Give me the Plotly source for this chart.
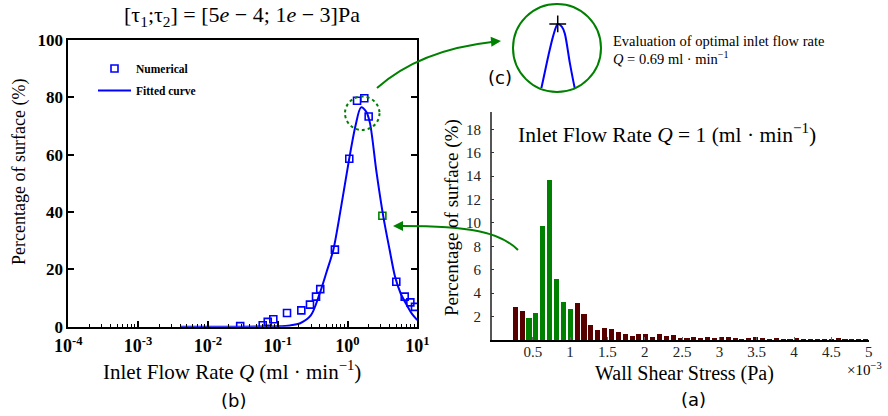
import plotly.graph_objects as go

# ---------------- data ----------------
# (b) numerical results: inlet flow rate Q (ml/min) vs percentage of surface
num_q = [0.029, 0.061, 0.072, 0.0865, 0.136, 0.218, 0.29, 0.354, 0.407, 0.66,
         1.06, 1.37, 1.74, 2.01, 3.16, 5.0, 6.6, 7.95, 9.27]
num_pct = [0.2, 0.5, 1.7, 2.6, 4.8, 5.7, 7.7, 10.5, 13.1, 26.9,
           58.6, 78.8, 79.7, 73.3, 38.7, 15.7, 10.5, 8.5, 6.9]
highlight_q = 3.16  # point shown in panel (a)

# (b) fitted curve
fit_q = [0.004, 0.02, 0.06, 0.1, 0.15, 0.21, 0.3, 0.4, 0.5, 0.625, 0.8, 1.06,
         1.3, 1.56, 1.85, 2.1, 2.6, 3.26, 4.0, 4.8, 5.8, 7.05, 8.5, 10.0]
fit_pct = [0.0, 0.0, 0.05, 0.15, 0.45, 1.2, 4.0, 11.6, 19.0, 26.7, 41.0, 58.7,
           70.0, 76.5, 75.0, 71.0, 54.0, 38.4, 27.0, 17.4, 11.5, 7.6, 4.3, 2.3]

# (a) histogram of wall shear stress (x 1e-3 Pa) for Q = 1 ml/min
wss_centers = [0.262, 0.354, 0.446, 0.538, 0.630, 0.722, 0.814, 0.906, 0.998, 1.090,
               1.182, 1.274, 1.366, 1.458, 1.550, 1.642, 1.734, 1.826, 1.918, 2.010,
               2.102, 2.194, 2.286, 2.378, 2.470, 2.562, 2.654, 2.746, 2.838, 2.930,
               3.022, 3.114, 3.206, 3.298, 3.390, 3.482, 3.574, 3.666, 3.758, 3.850,
               3.942, 4.034, 4.126, 4.218, 4.310, 4.402, 4.494, 4.586, 4.678, 4.770,
               4.862, 4.954]
wss_pct = [2.85, 2.5, 1.94, 2.34, 9.8, 13.7, 5.2, 3.3, 2.7, 3.15,
           2.25, 1.3, 0.9, 1.08, 1.0, 0.72, 0.54, 0.37, 0.56, 0.5,
           0.25, 0.5, 0.34, 0.43, 0.17, 0.17, 0.31, 0.17, 0.26, 0.17,
           0.26, 0.26, 0.17, 0.09, 0.17, 0.26, 0.23, 0.14, 0.23, 0.09,
           0.06, 0.23, 0.11, 0.14, 0.09, 0.09, 0.14, 0.17, 0.11, 0.14,
           0.09, 0.15]
tau_range = [0.5, 1.0]  # [tau1; tau2] in 1e-3 Pa

q_ticks = [1e-4, 1e-3, 1e-2, 1e-1, 1, 10]
q_tick_text = ["10<sup>-4</sup>", "10<sup>-3</sup>", "10<sup>-2</sup>",
               "10<sup>-1</sup>", "10<sup>0</sup>", "10<sup>1</sup>"]
pct_ticks = [0, 20, 40, 60, 80, 100]
bar_x_ticks = [0.5, 1, 1.5, 2, 2.5, 3, 3.5, 4, 4.5, 5]
bar_y_ticks = [2, 4, 6, 8, 10, 12, 14, 16, 18]

# ---------------- styling helpers ----------------
W, H = 888, 416
def fx(px):
    return px / W
def fy(py):
    return 1 - py / H

SERIF = "Liberation Serif"
SANS = "DejaVu Sans"
BLUE = "#0000ff"
GREEN = "#008000"
MAROON = "#580000"

fig = go.Figure()

# ---- panel (b)
pt_colors = [GREEN if q == highlight_q else BLUE for q in num_q]
fig.add_trace(go.Scatter(
    x=num_q, y=num_pct, mode="markers", name="Numerical",
    marker=dict(symbol="square-open", size=7, color=pt_colors,
                line=dict(width=1.6, color=pt_colors)),
    xaxis="x", yaxis="y", legendgroup="a"))
fig.add_trace(go.Scatter(
    x=fit_q, y=fit_pct, mode="lines", name="Fitted curve",
    line=dict(color=BLUE, width=2, shape="spline", smoothing=0.8),
    xaxis="x", yaxis="y", legendgroup="b"))

# ---- panel (a)
bar_colors = [GREEN if tau_range[0] - 0.07 < c < tau_range[1] else MAROON
              for c in wss_centers]
fig.add_trace(go.Bar(
    x=wss_centers, y=wss_pct, width=0.068, marker=dict(color=bar_colors, line=dict(width=0)),
    xaxis="x2", yaxis="y2", showlegend=False))

# ---- panel (c): zoom on the fitted-curve peak
fig.add_trace(go.Scatter(
    x=fit_q, y=fit_pct, mode="lines",
    line=dict(color=BLUE, width=2, shape="spline", smoothing=0.8),
    xaxis="x3", yaxis="y3", showlegend=False))
imax = fit_pct.index(max(fit_pct))
fig.add_trace(go.Scatter(
    x=[fit_q[imax]], y=[fit_pct[imax]], mode="markers",
    marker=dict(symbol="cross-thin-open", size=12, color="black",
                line=dict(width=1.5, color="black")),
    cliponaxis=False, xaxis="x3", yaxis="y3", showlegend=False))

fig.update_layout(
    width=W, height=H, margin=dict(l=0, r=0, t=0, b=0, pad=0, autoexpand=False),
    paper_bgcolor="white", plot_bgcolor="white",
    showlegend=True,
    legend=dict(x=fx(93), y=fy(54), xanchor="left", yanchor="top",
                bgcolor="rgba(0,0,0,0)", traceorder="grouped", tracegroupgap=3,
                font=dict(family=SERIF, size=11.5, color="black", weight="bold"),
                itemwidth=33),
    xaxis=dict(type="log", domain=[fx(68.3), fx(417.3)], range=[-4, 1], anchor="y",
               showline=True, linecolor="black", linewidth=2, mirror=True,
               ticks="inside", ticklen=6, tickwidth=1.5, tickcolor="black",
               tickvals=q_ticks, ticktext=q_tick_text,
               tickfont=dict(family=SERIF, size=18, color="black", weight="bold"),
               ticklabelstandoff=2,
               minor=dict(ticks="inside", ticklen=3, tickwidth=1, tickcolor="black",
                          dtick="D1", showgrid=False),
               showgrid=False, zeroline=False),
    yaxis=dict(domain=[fy(326.7), fy(40)], range=[0, 100], anchor="x",
               showline=True, linecolor="black", linewidth=2, mirror="ticks",
               ticks="inside", ticklen=6, tickwidth=1.5, tickcolor="black",
               tickvals=pct_ticks,
               tickfont=dict(family=SERIF, size=17, color="black", weight="bold"),
               ticklabelstandoff=0,
               showgrid=False, zeroline=False),
    xaxis2=dict(domain=[fx(491.7), fx(868.7)], range=[-0.05, 5.0], anchor="y2",
                showline=True, linecolor="black", linewidth=2,
                ticks="inside", ticklen=3, tickcolor="#666",
                tickvals=bar_x_ticks, ticktext=[f"{v:g}" for v in bar_x_ticks],
                tickfont=dict(family=SERIF, size=15, color="#222"),
                ticklabelstandoff=-3,
                showgrid=False, zeroline=False),
    yaxis2=dict(domain=[fy(340), fy(111.7)], range=[0, 19.5], anchor="x2",
                showline=True, linecolor="#555", linewidth=1.5,
                ticks="inside", ticklen=3, tickcolor="#333",
                tickvals=bar_y_ticks,
                tickfont=dict(family=SERIF, size=15, color="#222"),
                ticklabelstandoff=6,
                showgrid=False, zeroline=False),
    xaxis3=dict(type="log", domain=[fx(513), fx(600)], range=[-0.62, 0.962],
                anchor="y3", visible=False),
    yaxis3=dict(domain=[fy(88), fy(5)], range=[40, 87.3], anchor="x3", visible=False),
    bargap=0,
)

def ann(text, x, y, size=18, family=SERIF, angle=0, xanchor="center", yanchor="middle", color="black"):
    fig.add_annotation(text=text, x=fx(x), y=fy(y), xref="paper", yref="paper",
                       showarrow=False, textangle=angle, xanchor=xanchor, yanchor=yanchor,
                       font=dict(family=family, size=size, color=color))

# panel (b) texts
ann("[τ<sub>1</sub>;τ<sub>2</sub>] = [5<i>e</i> − 4; 1<i>e</i> − 3]Pa", 242, 16, size=22)
ann("Percentage of surface (%)", 19, 172, size=18, angle=-90)
ann("Inlet Flow Rate <i>Q</i> (ml · min<sup>−1</sup>)", 232, 370, size=21)
ann("(b)", 234, 400, size=18, family=SANS)

# panel (a) texts
ann("Inlet Flow Rate <i>Q</i> = 1 (ml · min<sup>−1</sup>)", 667, 133, size=21.5)
ann("Percentage of surface (%)", 452, 218, size=19, angle=-90)
ann("Wall Shear Stress (Pa)", 684, 373, size=20)
ann("×10<sup>−3</sup>", 864, 369, size=15)
ann("(a)", 693, 399, size=18, family=SANS)

# panel (c) texts
ann("(c)", 500, 77, size=18, family=SANS)
ann("Evaluation of optimal inlet flow rate", 611, 41, size=14.5, xanchor="left")
ann("<i>Q</i> = 0.69 ml · min<sup>−1</sup>", 611, 58, size=14.5, xanchor="left")

# shapes: circles and connecting arrows
fig.add_shape(type="circle", xref="paper", yref="paper",
              x0=fx(345), x1=fx(379.5), y0=fy(130), y1=fy(96.5),
              line=dict(color=GREEN, width=2, dash="dot"))
fig.add_shape(type="circle", xref="paper", yref="paper",
              x0=fx(513), x1=fx(601), y0=fy(92), y1=fy(4),
              line=dict(color=GREEN, width=2))

def P(x, y):
    return f"{fx(x):.5f},{fy(y):.5f}"

fig.add_shape(type="path", xref="paper", yref="paper",
              path=f"M {P(377, 88)} Q {P(420, 50)} {P(492, 42)}",
              line=dict(color=GREEN, width=2))
fig.add_shape(type="path", xref="paper", yref="paper",
              path=f"M {P(518, 250)} C {P(500, 232)} {P(470, 226)} {P(402, 226)}",
              line=dict(color=GREEN, width=2))
fig.add_annotation(x=fx(501), y=fy(41), xref="paper", yref="paper", text="",
                   showarrow=True, ax=-12, ay=1, arrowhead=2, arrowsize=1,
                   arrowwidth=2, arrowcolor=GREEN)
fig.add_annotation(x=fx(393), y=fy(226), xref="paper", yref="paper", text="",
                   showarrow=True, ax=12, ay=0, arrowhead=2, arrowsize=1,
                   arrowwidth=2, arrowcolor=GREEN)

fig.write_html("out.html", config={"displayModeBar": False},
               post_script="document.body.style.margin='0px';document.body.style.padding='0px';")
